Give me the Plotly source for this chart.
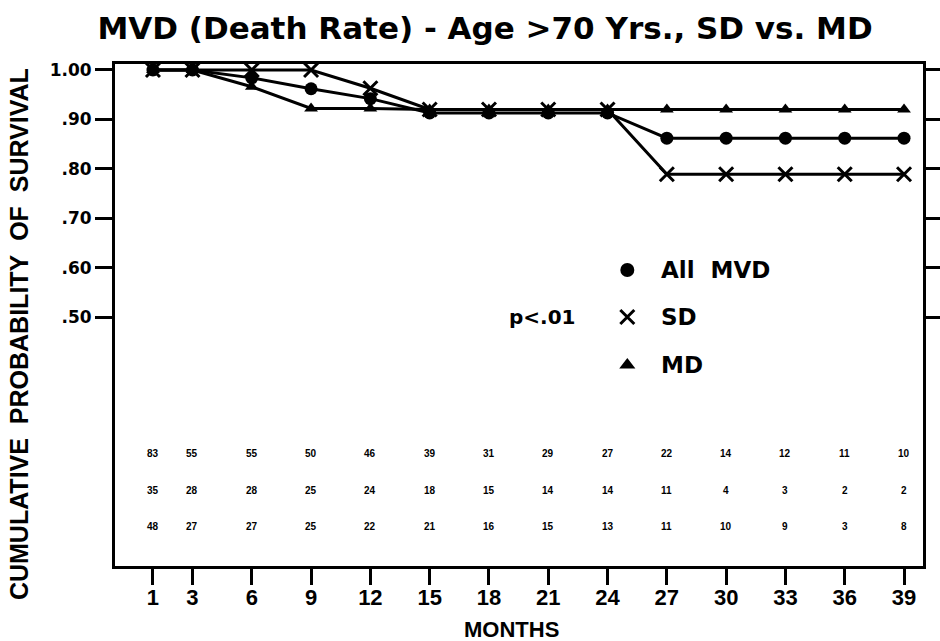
import plotly.graph_objects as go

# Follow-up months and Kaplan-Meier style survival estimates
months = [1, 3, 6, 9, 12, 15, 18, 21, 24, 27, 30, 33, 36, 39]
all_mvd = [1.00, 1.00, 0.984, 0.962, 0.942, 0.913, 0.913, 0.913, 0.913, 0.862, 0.862, 0.862, 0.862, 0.862]
sd = [1.00, 1.00, 1.00, 1.00, 0.963, 0.920, 0.920, 0.920, 0.920, 0.789, 0.789, 0.789, 0.789, 0.789]
md = [1.00, 1.00, 0.966, 0.922, 0.922, 0.920, 0.920, 0.920, 0.920, 0.920, 0.920, 0.920, 0.920, 0.920]

# Patients at risk at each interval
risk_labels = ["MVD", "SD", "MD"]
risk_mvd = [83, 55, 55, 50, 46, 39, 31, 29, 27, 22, 14, 12, 11, 10]
risk_sd = [35, 28, 28, 25, 24, 18, 15, 14, 14, 11, 4, 3, 2, 2]
risk_md = [48, 27, 27, 25, 22, 21, 16, 15, 13, 11, 10, 9, 3, 8]

y_ticks = [0.5, 0.6, 0.7, 0.8, 0.9, 1.0]
y_tick_text = [".50", ".60", ".70", ".80", ".90", "1.00"]

legend_names = ["All\u00a0\u00a0MVD", "SD", "MD"]
p_text = "p<.01"

WIDE = "DejaVu Sans"
NARROW = "Liberation Sans"


def bold(family, size):
    return dict(family=family, size=size, color="black", weight="bold")


fig = go.Figure()

line = dict(color="black", width=3)
fig.add_trace(go.Scatter(x=months, y=md, mode="lines+markers", line=line,
                         marker=dict(symbol="triangle-up", size=12, color="black"),
                         showlegend=False))
fig.add_trace(go.Scatter(x=months, y=all_mvd, mode="lines+markers", line=line,
                         marker=dict(symbol="circle", size=13, color="black"),
                         showlegend=False))
fig.add_trace(go.Scatter(x=months, y=sd, mode="lines+markers", line=line,
                         marker=dict(symbol="x-thin", size=14,
                                     line=dict(color="black", width=3)),
                         showlegend=False))

# Key drawn inside the plot area
key_x = 25
key_y = [0.595, 0.50, 0.403]
key_symbols = [("circle", 14), ("x-thin", 14), ("triangle-up", 14)]
for (sym, size), ky, name in zip(key_symbols, key_y, legend_names):
    mk = dict(symbol=sym, size=size, color="black")
    if sym == "x-thin":
        mk["line"] = dict(color="black", width=3)
    fig.add_trace(go.Scatter(x=[key_x], y=[ky], mode="markers", marker=mk,
                             showlegend=False))
    fig.add_annotation(x=26.6, y=ky, xref="x", yref="y", text=name,
                       showarrow=False, xanchor="left", yanchor="middle",
                       font=bold(WIDE, 23))

fig.add_annotation(x=22.5, y=key_y[1], xref="x", yref="y", text=p_text,
                   showarrow=False, xanchor="right", yanchor="middle",
                   font=bold(WIDE, 20))

# Numbers-at-risk table under the curves
row_y = [0.223, 0.148, 0.075]
for label, ry, counts in zip(risk_labels, row_y, [risk_mvd, risk_sd, risk_md]):
    fig.add_annotation(x=-1.45, y=ry, xref="x", yref="y", text=label,
                       showarrow=False, xanchor="right", yanchor="middle",
                       font=bold(NARROW, 11))
    for m, c in zip(months, counts):
        fig.add_annotation(x=m, y=ry, xref="x", yref="y", text=str(c),
                           showarrow=False, xanchor="center", yanchor="middle",
                           font=bold(NARROW, 10))

# Axis titles
fig.add_annotation(x=-0.1188, y=0.462, xref="paper", yref="paper",
                   text="CUMULATIVE\u00a0\u00a0PROBABILITY\u00a0\u00a0OF\u00a0\u00a0SURVIVAL",
                   textangle=-90, showarrow=False, xanchor="center", yanchor="middle",
                   font=bold(NARROW, 25))
fig.add_annotation(x=0.491, y=-0.127, xref="paper", yref="paper", text="MONTHS",
                   showarrow=False, xanchor="center", yanchor="middle",
                   font=bold(NARROW, 22))

fig.update_layout(
    width=940, height=641,
    margin=dict(l=115, r=17, t=64, b=75, autoexpand=False),
    paper_bgcolor="white", plot_bgcolor="white",
    title=dict(text="MVD (Death Rate) - Age >70 Yrs., SD vs. MD",
               x=0.516, xref="container", xanchor="center",
               y=0.956, yref="container", yanchor="middle",
               font=bold(WIDE, 31)),
    xaxis=dict(range=[-0.92, 39.96], tickvals=months, ticktext=[str(m) for m in months],
               showgrid=False, zeroline=False, showline=True, linecolor="black",
               linewidth=3, mirror=True, ticks="outside", ticklen=16, tickwidth=3,
               tickcolor="black", ticklabelstandoff=-6, automargin=False,
               tickfont=bold(NARROW, 22)),
    yaxis=dict(range=[-0.004, 1.0121], tickvals=y_ticks, ticktext=y_tick_text,
               showgrid=False, zeroline=False, showline=True, linecolor="black",
               linewidth=3, mirror="allticks", ticks="outside", ticklen=17, tickwidth=3,
               tickcolor="black", automargin=False,
               tickfont=bold(WIDE, 17)),
)

fig.write_html("out.html")
